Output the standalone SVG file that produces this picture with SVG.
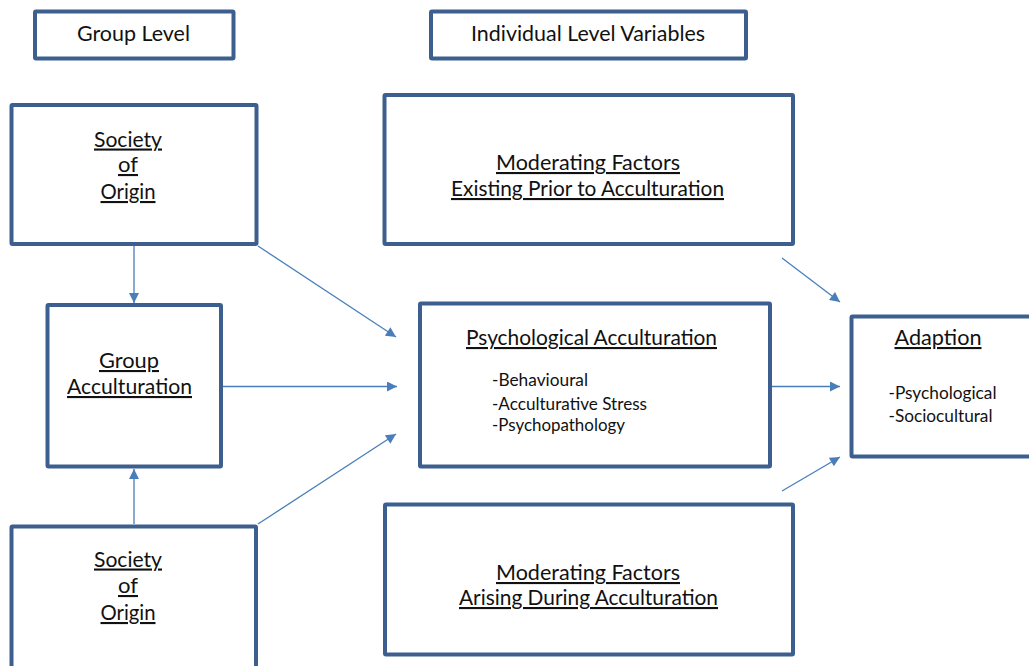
<svg xmlns="http://www.w3.org/2000/svg" width="1029" height="666" viewBox="0 0 1029 666">
  <style>
    .box { fill: #ffffff; stroke: #3c5f8f; stroke-width: 4; }
    .t { font-family: Lato, "Open Sans", "Liberation Sans", sans-serif; font-size: 21px; fill: #111111; text-anchor: middle; }
    .u { text-decoration: underline; }
    .s { font-family: Lato, "Open Sans", "Liberation Sans", sans-serif; font-size: 16.5px; fill: #111111; }
    .c { stroke: #4a7ebb; stroke-width: 1.3; fill: none; marker-end: url(#arrow); }
  </style>
  <defs>
    <marker id="arrow" viewBox="0 0 10 10" refX="10" refY="5" markerWidth="12" markerHeight="10" markerUnits="userSpaceOnUse" orient="auto">
      <path d="M0,0 L10,5 L0,10 Z" fill="#4a7ebb"/>
    </marker>
  </defs>

  <rect width="1029" height="666" fill="#ffffff"/>

  <g id="connectors">
    <line class="c" x1="134" y1="246" x2="134" y2="303"/>
    <line class="c" x1="134" y1="524" x2="134" y2="469"/>
    <line class="c" x1="222" y1="386.5" x2="397" y2="386.5"/>
    <line class="c" x1="258" y1="246" x2="396" y2="337"/>
    <line class="c" x1="258" y1="524" x2="396" y2="434"/>
    <line class="c" x1="772" y1="386.5" x2="840" y2="386.5"/>
    <line class="c" x1="782" y1="258" x2="840" y2="302"/>
    <line class="c" x1="782" y1="491" x2="840" y2="457"/>
  </g>

  <g id="group-level">
    <rect class="box" x="35" y="11.5" width="198.5" height="47" rx="1"/>
    <text class="t" x="133.5" y="41" textLength="113" lengthAdjust="spacingAndGlyphs">Group Level</text>
  </g>

  <g id="individual-level">
    <rect class="box" x="431" y="11.5" width="315" height="47" rx="1"/>
    <text class="t" x="588" y="41" textLength="234" lengthAdjust="spacingAndGlyphs">Individual Level Variables</text>
  </g>

  <g id="society-origin-top">
    <rect class="box" x="11.5" y="105" width="245" height="139" rx="1"/>
    <text class="t u" x="128" y="146.5" textLength="68" lengthAdjust="spacingAndGlyphs">Society</text>
    <text class="t u" x="128" y="172" textLength="20" lengthAdjust="spacingAndGlyphs">of</text>
    <text class="t u" x="128" y="199" textLength="55" lengthAdjust="spacingAndGlyphs">Origin</text>
  </g>

  <g id="group-acculturation">
    <rect class="box" x="47.5" y="305" width="173.5" height="161.5" rx="1"/>
    <text class="t u" x="129" y="368" textLength="60" lengthAdjust="spacingAndGlyphs">Group</text>
    <text class="t u" x="129.5" y="394" textLength="125" lengthAdjust="spacingAndGlyphs">Acculturation</text>
  </g>

  <g id="society-origin-bottom">
    <rect class="box" x="11.5" y="526.5" width="244.5" height="150" rx="1"/>
    <text class="t u" x="128" y="566.5" textLength="68" lengthAdjust="spacingAndGlyphs">Society</text>
    <text class="t u" x="128" y="593" textLength="20" lengthAdjust="spacingAndGlyphs">of</text>
    <text class="t u" x="128" y="620" textLength="55" lengthAdjust="spacingAndGlyphs">Origin</text>
  </g>

  <g id="moderating-prior">
    <rect class="box" x="384.5" y="95" width="408.5" height="149" rx="1"/>
    <text class="t u" x="588" y="170" textLength="184" lengthAdjust="spacingAndGlyphs">Moderating Factors</text>
    <text class="t u" x="587.5" y="196" textLength="273" lengthAdjust="spacingAndGlyphs">Existing Prior to Acculturation</text>
  </g>

  <g id="psychological-acculturation">
    <rect class="box" x="420" y="303.5" width="350" height="163" rx="1"/>
    <text class="t u" x="591.5" y="345" textLength="251" lengthAdjust="spacingAndGlyphs">Psychological Acculturation</text>
    <text class="s" x="492" y="386" textLength="96" lengthAdjust="spacingAndGlyphs">-Behavioural</text>
    <text class="s" x="492" y="410" textLength="155" lengthAdjust="spacingAndGlyphs">-Acculturative Stress</text>
    <text class="s" x="492" y="431" textLength="133" lengthAdjust="spacingAndGlyphs">-Psychopathology</text>
  </g>

  <g id="adaption">
    <rect class="box" x="851.5" y="316.5" width="190" height="140" rx="1"/>
    <text class="t u" x="938" y="345" textLength="87" lengthAdjust="spacingAndGlyphs">Adaption</text>
    <text class="s" x="888.5" y="398.5" textLength="108" lengthAdjust="spacingAndGlyphs">-Psychological</text>
    <text class="s" x="888.5" y="421.5" textLength="104" lengthAdjust="spacingAndGlyphs">-Sociocultural</text>
  </g>

  <g id="moderating-arising">
    <rect class="box" x="385" y="504.5" width="408" height="150" rx="1"/>
    <text class="t u" x="588" y="580" textLength="184" lengthAdjust="spacingAndGlyphs">Moderating Factors</text>
    <text class="t u" x="588.5" y="605" textLength="259" lengthAdjust="spacingAndGlyphs">Arising During Acculturation</text>
  </g>
</svg>
